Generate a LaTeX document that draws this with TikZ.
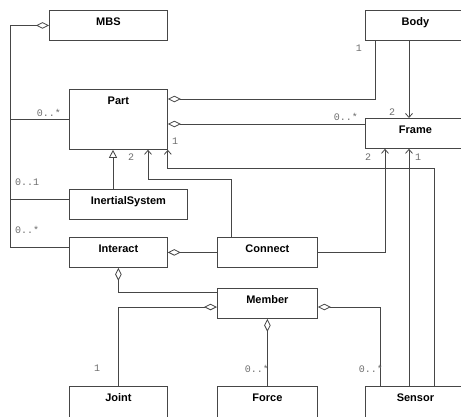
\documentclass[tikz,border=0pt]{standalone}
\usepackage{fontspec}
\setsansfont{Liberation Sans}
\setmonofont{Liberation Mono}
\usepackage{tikz}
\usetikzlibrary{arrows.meta,positioning,calc}
\definecolor{umledge}{RGB}{70,70,70}
\definecolor{umlmult}{RGB}{110,110,110}
\tikzset{
  cls/.style={
    draw=umledge, line width=0.8pt, anchor=north west, inner sep=0pt,
    minimum width=98pt, minimum height=30pt, text height=15.5pt, text depth=14.5pt,
    font=\sffamily\bfseries\fontsize{11}{12}\selectfont
  },
  link/.style={draw=umledge, line width=0.8pt},
  agg/.style={link, {Diamond[open,fill=white,length=13pt,width=6.5pt]}-},
  nav/.style={link, -{Straight Barb[length=4pt,width=7pt]}},
  gen/.style={link, -{Triangle[open,fill=white,length=8pt,width=8pt]}},
  mult/.style={font=\ttfamily\fontsize{10}{10}\selectfont, text=umlmult, inner sep=0pt}
}
\begin{document}
\begin{tikzpicture}[x=1pt,y=-1pt]
  \useasboundingbox (0,0) rectangle (461,416);
  % classes
  \node[cls, minimum width=118pt] (MBS) at (49,10) {MBS};
  \node[cls, text depth=44.5pt] (Part) at (69,89) {Part};
  \node[cls, minimum width=100pt] (Body) at (365,10) {Body};
  \node[cls, minimum width=100pt] (Frame) at (365,118) {Frame};
  \node[cls, minimum width=118pt] (InertialSystem) at (69,189) {InertialSystem};
  \node[cls] (Interact) at (69,237) {Interact};
  \node[cls, minimum width=100pt] (Connect) at (217,237) {Connect};
  \node[cls, minimum width=100pt] (Member) at (217,288) {Member};
  \node[cls, minimum height=34pt, text depth=18.5pt] (Joint) at (69,386) {Joint};
  \node[cls, minimum width=100pt, minimum height=34pt, text depth=18.5pt] (Force) at (217,386) {Force};
  \node[cls, minimum width=100pt, minimum height=34pt, text depth=18.5pt] (Sensor) at (365,386) {Sensor};

  % MBS aggregation bus on the left
  \coordinate (lbus) at ($(MBS.west)+(-39,0)$);
  \draw[agg] (MBS.west) -- (lbus) |- ($(Interact.north west)+(0,10)$);
  \draw[link] (Part.west) -- (Part.west -| lbus);
  \draw[link] ($(InertialSystem.north west)+(0,10)$) -- +(-59,0);
  \node[mult, anchor=base east] (mPart) at (61,116) {0..*};
  \node[mult, anchor=base west] (mInert) at (15,185) {0..1};
  \node[mult, anchor=base west] (mInter) at (15,233) {0..*};

  % Part to Body and Frame
  \draw[agg] ($(Part.north east)+(0,10)$) -| ($(Body.south west)+(10,0)$);
  \coordinate (pf) at ($(Part.north east)+(0,35)$);
  \draw[agg] (pf) -- (pf -| Frame.west);
  \draw[nav] ($(Body.south west)+(44,0)$) -- ($(Frame.north west)+(44,0)$);
  \node[mult, anchor=base east] (mBody) at (362,51) {1};
  \node[mult, anchor=base east] (mFrame) at (358,120) {0..*};
  \node[mult] (mBF) at (392,112) {2};

  \draw[gen] ($(InertialSystem.north west)+(44,0)$) -- ($(Part.south west)+(44,0)$);

  % Connect
  \draw[nav] ($(Connect.north west)+(14,0)$) |- ($(Part.south west)+(79,30)$)
    -- ($(Part.south west)+(79,0)$);
  \draw[nav] (Connect.east) -| ($(Frame.south west)+(20,0)$);
  \draw[agg] (Interact.east) -- (Connect.west);
  \node[mult] (mCP) at (131,157) {2};
  \node[mult] (mCF) at (368,157) {2};

  % Sensor
  \draw[nav] ($(Sensor.north west)+(69,0)$) |- ($(Part.south east)+(0,19)$) -- (Part.south east);
  \draw[nav] ($(Sensor.north west)+(44,0)$) -- ($(Frame.south west)+(44,0)$);
  \node[mult] (mSP) at (175,141) {1};
  \node[mult] (mSF) at (418,157) {1};

  % Member
  \draw[agg] (Interact.south) |- ($(Member.north west)+(0,4)$);
  \draw[agg] ($(Member.north west)+(0,19)$) -| (Joint.north);
  \draw[agg] (Member.south) -- (Force.north);
  \draw[agg] ($(Member.north east)+(0,19)$) -| ($(Sensor.north west)+(15,0)$);
  \node[mult] (mJoint) at (97,368) {1};
  \node[mult, anchor=base east] (mForce) at (269,372) {0..*};
  \node[mult, anchor=base east] (mSensor) at (383,372) {0..*};
\end{tikzpicture}
\end{document}
